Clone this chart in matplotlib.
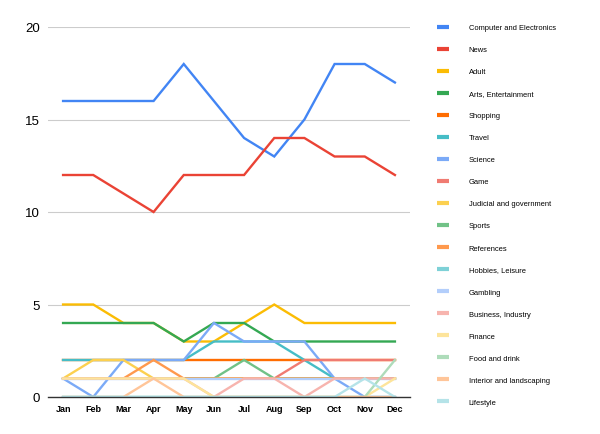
import matplotlib
matplotlib.use("Agg")
import matplotlib.pyplot as plt

plt.rcParams['font.family'] = ['Liberation Sans', 'DejaVu Sans']

months = ['Jan', 'Feb', 'Mar', 'Apr', 'May', 'Jun', 'Jul', 'Aug', 'Sep', 'Oct', 'Nov', 'Dec']

names = ['Computer and Electronics', 'News', 'Adult', 'Arts, Entertainment', 'Shopping',
         'Travel', 'Science', 'Game', 'Judicial and government', 'Sports', 'References',
         'Hobbies, Leisure', 'Gambling', 'Business, Industry', 'Finance', 'Food and drink',
         'Interior and landscaping', 'Lifestyle']

computer = [16, 16, 16, 16, 18, 16, 14, 13, 15, 18, 18, 17]
news = [12, 12, 11, 10, 12, 12, 12, 14, 14, 13, 13, 12]
adult = [5, 5, 4, 4, 3, 3, 4, 5, 4, 4, 4, 4]
arts = [4, 4, 4, 4, 3, 4, 4, 3, 3, 3, 3, 3]
shopping = [2, 2, 2, 2, 2, 2, 2, 2, 2, 2, 2, 2]
travel = [2, 2, 2, 2, 2, 3, 3, 3, 2, 1, 1, 1]
science = [1, 0, 2, 2, 2, 4, 3, 3, 3, 1, 0, 0]
game = [1, 1, 1, 1, 1, 1, 1, 1, 2, 2, 2, 2]
judicial = [1, 2, 2, 1, 1, 1, 1, 1, 1, 1, 1, 1]
sports = [1, 1, 1, 1, 1, 1, 2, 1, 1, 1, 1, 1]
references = [1, 1, 1, 2, 1, 1, 1, 1, 1, 1, 1, 1]
hobbies = [0, 0, 0, 0, 0, 0, 0, 0, 0, 0, 0, 0]
gambling = [1, 1, 1, 1, 1, 1, 1, 1, 1, 1, 1, 1]
business = [1, 1, 1, 1, 1, 0, 1, 1, 0, 1, 1, 1]
finance = [1, 1, 1, 1, 1, 0, 0, 0, 0, 0, 0, 1]
food = [0, 0, 0, 0, 0, 0, 0, 0, 0, 0, 0, 2]
interior = [0, 0, 0, 1, 0, 0, 0, 0, 0, 0, 0, 0]
lifestyle = [0, 0, 0, 0, 0, 0, 0, 0, 0, 0, 1, 0]

series = [computer, news, adult, arts, shopping, travel, science, game, judicial,
          sports, references, hobbies, gambling, business, finance, food, interior, lifestyle]

colors = ['#4285F4', '#EA4335', '#FBBC04', '#34A853', '#FF6D01', '#46BDC6', '#7BAAF7',
          '#F07B72', '#FCD04F', '#71C287', '#FF994D', '#7ED1D7', '#B3CEFB', '#F7B4AE',
          '#FDE49B', '#AEDCBA', '#FFC599', '#B5E3E8']

fig = plt.figure(figsize=(6, 4.35), dpi=100)
ax = fig.add_axes([48 / 600, 37 / 435, 362 / 600, 370 / 435])

x = range(len(months))
for vals, name, c in zip(series, names, colors):
    ax.plot(x, vals, color=c, lw=1.7, label=name, solid_joinstyle='miter')

ax.set_xlim(-0.5, 11.5)
ax.set_ylim(0, 20)
ax.set_yticks([0, 5, 10, 15, 20])
ax.set_xticks(list(x))
ax.set_xticklabels(months, fontsize=6.5, fontweight='bold')
ax.tick_params(axis='y', labelsize=9.5, length=0, pad=6)
ax.tick_params(axis='x', length=0, pad=5)
ax.grid(axis='y', color='#cccccc', lw=0.8)
ax.set_axisbelow(True)
for s in ['top', 'right', 'left']:
    ax.spines[s].set_visible(False)
ax.spines['bottom'].set_color('#333333')
ax.spines['bottom'].set_linewidth(1.0)

leg = ax.legend(loc='upper left', bbox_to_anchor=(437 / 600, 1 - 25 / 435),
                bbox_transform=fig.transFigure, frameon=False, fontsize=5.4,
                handlelength=1.6, handletextpad=2.6, labelspacing=1.97, borderpad=0,
                borderaxespad=0)
for h in leg.get_lines():
    h.set_linewidth(3)
    h.set_solid_capstyle('butt')

fig.savefig('out.png', dpi=100)
